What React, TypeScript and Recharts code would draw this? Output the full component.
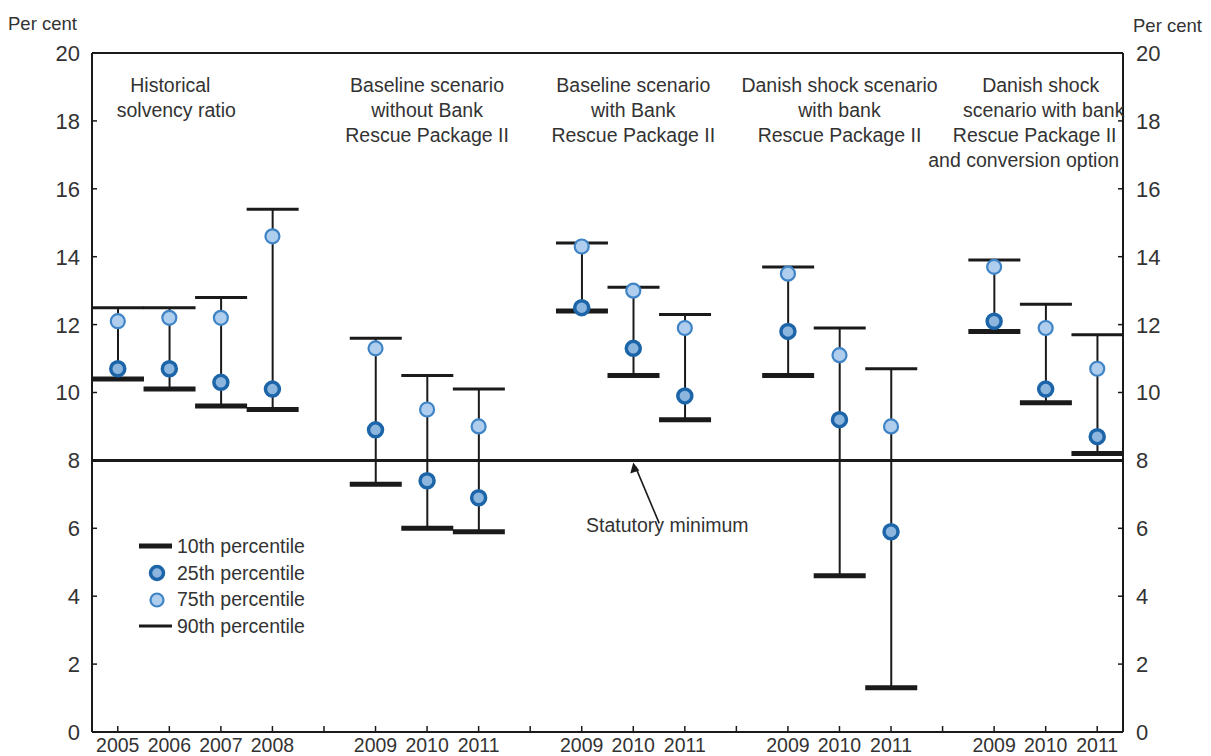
import { ComposedChart, Bar, Line, XAxis, YAxis, ReferenceLine, ReferenceDot, Legend, Label } from 'recharts'

const FONT = '"Liberation Sans", Arial, Helvetica, sans-serif'
const INK = '#1a1a1a'
const TEXT = '#333333'

// ── data ──────────────────────────────────────────────────────────────────────

// 20 slots: 4 historical years, then 4 scenario groups of 3 years, with empty spacer slots
const slotIds = ['h05', 'h06', 'h07', 'h08', 'g1', 'a09', 'a10', 'a11', 'g2', 'b09', 'b10', 'b11', 'g3', 'c09', 'c10', 'c11', 'g4', 'd09', 'd10', 'd11']
const slotYears = ['2005', '2006', '2007', '2008', '', '2009', '2010', '2011', '', '2009', '2010', '2011', '', '2009', '2010', '2011', '', '2009', '2010', '2011']

const p10 = [10.4, 10.1, 9.6, 9.5, null, 7.3, 6.0, 5.9, null, 12.4, 10.5, 9.2, null, 10.5, 4.6, 1.3, null, 11.8, 9.7, 8.2]
const p25 = [10.7, 10.7, 10.3, 10.1, null, 8.9, 7.4, 6.9, null, 12.5, 11.3, 9.9, null, 11.8, 9.2, 5.9, null, 12.1, 10.1, 8.7]
const p75 = [12.1, 12.2, 12.2, 14.6, null, 11.3, 9.5, 9.0, null, 14.3, 13.0, 11.9, null, 13.5, 11.1, 9.0, null, 13.7, 11.9, 10.7]
const p90 = [12.5, 12.5, 12.8, 15.4, null, 11.6, 10.5, 10.1, null, 14.4, 13.1, 12.3, null, 13.7, 11.9, 10.7, null, 13.9, 12.6, 11.7]

const yTicks = [0, 2, 4, 6, 8, 10, 12, 14, 16, 18, 20]
const statutoryMinimum = 8

const groupTitles = [
  { at: 'h06', lines: ['Historical', 'solvency ratio'], dx: [1, 7] },
  { at: 'a10', lines: ['Baseline scenario', 'without Bank', 'Rescue Package II'], dx: [0, 0, 0] },
  { at: 'b10', lines: ['Baseline scenario', 'with Bank', 'Rescue Package II'], dx: [0, 0, 0] },
  { at: 'c10', lines: ['Danish shock scenario', 'with bank', 'Rescue Package II'], dx: [0, 0, 0] },
  { at: 'd10', lines: ['Danish shock', 'scenario with bank', 'Rescue Package II', 'and conversion option'], dx: [-5, -2, -11, -22] },
]

const legendItems = [
  { label: '10th percentile', kind: 'p10' },
  { label: '25th percentile', kind: 'p25' },
  { label: '75th percentile', kind: 'p75' },
  { label: '90th percentile', kind: 'p90' },
]

const data = slotIds.map((id, i) => ({
  id,
  year: slotYears[i],
  p10: p10[i],
  p25: p25[i],
  p75: p75[i],
  p90: p90[i],
}))
const yearById: Record<string, string> = Object.fromEntries(slotIds.map((id, i) => [id, slotYears[i]]))

// ── marks ─────────────────────────────────────────────────────────────────────

const C25 = { fill: '#8db6df', stroke: '#1c65a9', strokeWidth: 3.5 }
const C75 = { fill: '#afcdec', stroke: '#3f84c6', strokeWidth: 2.2 }

function Whisker(props: any) {
  const { x, y, width, height } = props
  if (x == null || y == null || !height) return <g />
  const top = Math.min(y, y + height)
  const bottom = Math.max(y, y + height)
  const cx = x + width / 2
  return (
    <g>
      <line x1={cx} x2={cx} y1={top} y2={bottom} stroke={INK} strokeWidth={2} />
      <line x1={x} x2={x + width} y1={top} y2={top} stroke={INK} strokeWidth={3} />
      <line x1={x} x2={x + width} y1={bottom} y2={bottom} stroke={INK} strokeWidth={5} />
    </g>
  )
}

const makeDot = (style: typeof C25, tag: string) => (props: any) => {
  const { cx, cy, index, value } = props
  if (cx == null || cy == null || value == null) return <g key={`${tag}-${index}`} />
  return <circle key={`${tag}-${index}`} cx={cx} cy={cy} r={7} {...style} />
}

function XTick({ x, y, payload }: any) {
  return (
    <g>
      <line x1={x} x2={x} y1={y} y2={y - 6} stroke={INK} strokeWidth={1.5} />
      <text x={x} y={y + 20} textAnchor="middle" fontSize={19.5} fill={TEXT} fontFamily={FONT}>
        {yearById[payload.value]}
      </text>
    </g>
  )
}

function YTick({ x, y, payload, side }: any) {
  const dir = side === 'left' ? 1 : -1
  return (
    <g>
      <line x1={x} x2={x + dir * 5} y1={y} y2={y} stroke={INK} strokeWidth={1.5} />
      <text
        x={side === 'left' ? x - 12 : x + 13}
        y={y}
        dy="0.36em"
        textAnchor={side === 'left' ? 'end' : 'start'}
        fontSize={22}
        fill={TEXT}
        fontFamily={FONT}
      >
        {payload.value}
      </text>
    </g>
  )
}

function TitleBlock({ cx, cy, lines, dx }: any) {
  return (
    <g>
      {lines.map((t: string, i: number) => (
        <text key={t} x={cx + dx[i]} y={cy + 39 + i * 25} textAnchor="middle" fontSize={19.5} fill={TEXT} fontFamily={FONT}>
          {t}
        </text>
      ))}
    </g>
  )
}

function StatutoryNote({ cx, cy }: any) {
  const tx = cx + 26
  const ty = cy + 63
  return (
    <g>
      <line x1={cx + 2} y1={cy + 6} x2={tx} y2={ty} stroke={INK} strokeWidth={1.6} />
      <path d={`M ${cx} ${cy + 2} L ${cx - 3} ${cy + 13} L ${cx + 6} ${cy + 10} Z`} fill={INK} />
      <text x={cx + 34} y={cy + 72} textAnchor="middle" fontSize={19.5} fill={TEXT} fontFamily={FONT}>
        Statutory minimum
      </text>
    </g>
  )
}

function LegendBox() {
  return (
    <div style={{ fontFamily: FONT, fontSize: 19.5, color: TEXT }}>
      {legendItems.map((item) => (
        <div key={item.kind} style={{ display: 'flex', alignItems: 'center', height: 26.7 }}>
          <svg width={39} height={20} style={{ flexShrink: 0 }}>
            {item.kind === 'p10' && <line x1={1} x2={34} y1={10} y2={10} stroke={INK} strokeWidth={5} />}
            {item.kind === 'p90' && <line x1={1} x2={34} y1={10} y2={10} stroke={INK} strokeWidth={3} />}
            {item.kind === 'p25' && <circle cx={19} cy={10} r={6.5} {...C25} />}
            {item.kind === 'p75' && <circle cx={19} cy={10} r={6.5} {...C75} />}
          </svg>
          <span>{item.label}</span>
        </div>
      ))}
    </div>
  )
}

const perCent = (side: 'left' | 'right') => ({ viewBox }: any) => (
  <text
    x={side === 'left' ? viewBox.x + 8 : viewBox.x + 10}
    y={viewBox.y - (side === 'left' ? 23 : 21)}
    fontSize={18.5}
    fill={TEXT}
    fontFamily={FONT}
  >
    Per cent
  </text>
)

// ── chart ─────────────────────────────────────────────────────────────────────

export default function App() {
  return (
    <div style={{ position: 'absolute', left: 0, top: 0, width: 1211, height: 756, background: '#fff' }}>
      <ComposedChart
        width={1211}
        height={756}
        data={data}
        margin={{ top: 53, right: 0, bottom: 0, left: 0 }}
        barCategoryGap={0}
        barGap={0}
      >
        <XAxis
          dataKey="id"
          type="category"
          interval={0}
          height={24}
          tickSize={0}
          tickMargin={0}
          tickLine={false}
          axisLine={{ stroke: INK, strokeWidth: 2 }}
          tick={<XTick />}
        />
        <YAxis
          yAxisId="left"
          orientation="left"
          width={92}
          domain={[0, 20]}
          ticks={yTicks}
          allowDataOverflow
          tickSize={0}
          tickMargin={0}
          tickLine={false}
          axisLine={{ stroke: INK, strokeWidth: 2 }}
          tick={<YTick side="left" />}
        >
          <Label content={perCent('left')} />
        </YAxis>
        <YAxis
          yAxisId="right"
          orientation="right"
          width={88}
          domain={[0, 20]}
          ticks={yTicks}
          allowDataOverflow
          tickSize={0}
          tickMargin={0}
          tickLine={false}
          axisLine={{ stroke: INK, strokeWidth: 2 }}
          tick={<YTick side="right" />}
        >
          <Label content={perCent('right')} />
        </YAxis>

        <ReferenceLine yAxisId="left" y={20} stroke={INK} strokeWidth={2} />
        <ReferenceLine yAxisId="left" y={statutoryMinimum} stroke={INK} strokeWidth={3} />

        <Bar
          yAxisId="left"
          dataKey={(d: any) => (d.p10 == null ? null : [d.p10, d.p90])}
          shape={<Whisker />}
          isAnimationActive={false}
          legendType="none"
        />
        {/* same 0–20 scale on both sides; the 75th percentile is attached to the right axis so it gets ticks */}
        <Line
          yAxisId="right"
          dataKey="p75"
          stroke="none"
          dot={makeDot(C75, 'p75')}
          activeDot={false}
          isAnimationActive={false}
        />
        <Line
          yAxisId="left"
          dataKey="p25"
          stroke="none"
          dot={makeDot(C25, 'p25')}
          activeDot={false}
          isAnimationActive={false}
        />

        {groupTitles.map((g) => (
          <ReferenceDot
            key={g.at}
            yAxisId="left"
            x={g.at}
            y={20}
            r={0}
            shape={(p: any) => <TitleBlock cx={p.cx} cy={p.cy} lines={g.lines} dx={g.dx} />}
          />
        ))}
        <ReferenceDot
          yAxisId="left"
          x="b10"
          y={statutoryMinimum}
          r={0}
          shape={(p: any) => <StatutoryNote cx={p.cx} cy={p.cy} />}
        />

        <Legend
          layout="vertical"
          align="center"
          verticalAlign="middle"
          wrapperStyle={{ left: 138, top: 533, width: 300 }}
          content={<LegendBox />}
        />
      </ComposedChart>
    </div>
  )
}
